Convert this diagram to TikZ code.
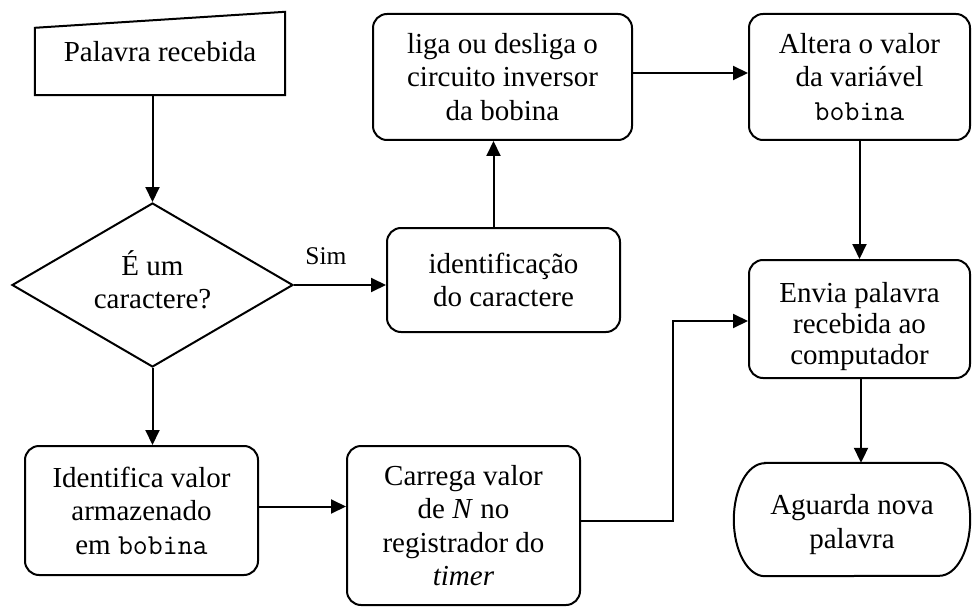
\documentclass[tikz,border=0pt]{standalone}
\usepackage{fontspec}
\setmainfont{Liberation Serif}
\usetikzlibrary{shapes.geometric,arrows.meta}
\begin{document}
\begin{tikzpicture}[x=1pt,y=-1pt,
  txt/.style={font=\fontsize{29}{33.5}\selectfont, align=center, inner sep=0pt},
  procbox/.style={txt, draw, line width=2pt, rounded corners=14pt},
  decbox/.style={txt, draw, line width=2pt, diamond, aspect=1.713, minimum width=281pt, minimum height=164pt},
  outline/.style={line width=2pt, line join=miter},
  arr/.style={line width=2pt, -{Triangle[length=15pt,width=14pt]}},
  lbl/.style={font=\fontsize{25.5}{30}\selectfont, inner sep=0pt}
]
\useasboundingbox (0,0) rectangle (972,607);

% manual input
\node[txt, minimum width=250pt, minimum height=67pt, text height=20pt, text depth=20pt] (pr) at (160,61.5) {Palavra recebida};
\draw[outline] (pr.south west) -- (pr.north west) -- ([yshift=16pt]pr.north east) -- (pr.south east) -- cycle;

% decision
\node[decbox] (dec) at (152.5,285) {É um\\caractere?\rule[-11pt]{0pt}{11pt}};

% process boxes
\node[procbox, minimum width=259pt, minimum height=126pt] (liga) at (502.5,77) {liga ou desliga o\\circuito inversor\\da bobina};
\node[procbox, minimum width=221pt, minimum height=126pt] (alt) at (859.5,77) {Altera o valor\\da variável\\\texttt{bobina}};
\node[procbox, minimum width=233pt, minimum height=104pt] (idc) at (503.5,280) {identificação\\do caractere};
\node[procbox, minimum width=221pt, minimum height=118pt, font=\fontsize{29}{31}\selectfont] (env) at (859.5,319) {\rule{0pt}{35pt}Envia palavra\\recebida ao\\computador};
\node[procbox, minimum width=233pt, minimum height=129pt] (idv) at (141.5,510.5) {Identifica valor\\armazenado\\em \texttt{bobina}};
\node[procbox, minimum width=233pt, minimum height=159pt] (car) at (463.5,525.5) {Carrega valor\\de \textit{N} no\\registrador do\\\textit{timer}};

% terminal
\node[txt, minimum width=236pt, minimum height=113pt] (agu) at (852,519.5) {\rule{0pt}{30pt}Aguarda nova\\palavra};
\draw[outline] ([xshift=31pt]agu.north west) -- ([xshift=-31pt]agu.north east)
  arc[start angle=90, end angle=-90, x radius=31pt, y radius=56.5pt]
  -- ([xshift=31pt]agu.south west)
  arc[start angle=270, end angle=90, x radius=31pt, y radius=56.5pt] -- cycle;

% label
\node[lbl] (sim) at (326,256) {Sim};

% connectors
\draw[arr] (dec.north |- pr.south) -- (dec.north);
\draw[arr] (dec.east) -- (dec.east -| idc.west);
\draw[arr] ([xshift=-10pt]idc.north) -- ([xshift=-10pt]idc.north |- liga.south);
\draw[arr] ([yshift=4pt]liga.east) -- ([yshift=4pt]liga.east -| alt.west);
\draw[arr] (alt.south) -- (env.north);
\draw[arr] (dec.south) -- (dec.south |- idv.north);
\draw[arr] ([yshift=4pt]idv.east) -- ([yshift=4pt]idv.east -| car.west);
\draw[arr] ([yshift=5pt]car.east) -- ++(92,0) |- ([yshift=-2pt]env.west);
\draw[arr] ([xshift=1.5pt]env.south) -- ([xshift=1.5pt]env.south |- agu.north);
\end{tikzpicture}
\end{document}
